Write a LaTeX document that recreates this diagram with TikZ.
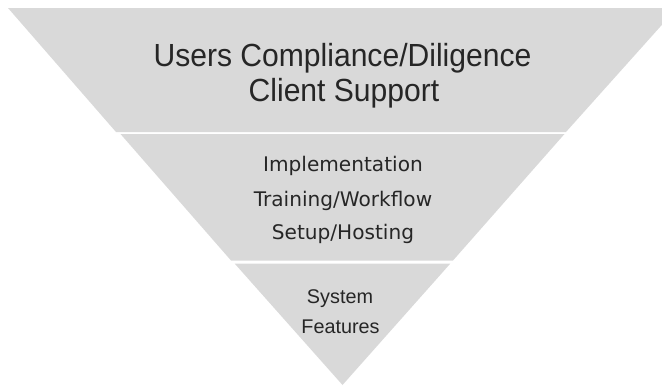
\documentclass[tikz,border=0pt]{standalone}
\usepackage{fontspec}
\setmainfont{Liberation Sans}
\newfontfamily\dejavu{DejaVu Sans}
\definecolor{band}{HTML}{D9D9D9}
\definecolor{ink}{HTML}{262626}
\tikzset{
  bandfill/.style={fill=band,draw=none},
  lbl/.style={text=ink,inner sep=0pt,anchor=base},
  toptxt/.style={lbl,font=\fontsize{32}{38}\selectfont},
  midtxt/.style={lbl,font=\dejavu\fontsize{20.1}{24}\selectfont},
  bottxt/.style={lbl,font=\fontsize{19.8}{24}\selectfont}
}
\begin{document}
\begin{tikzpicture}[x=1pt,y=-1pt]
\useasboundingbox (0,0) rectangle (662,386);
\begin{scope}
\clip (0,0) rectangle (662,386);
% top band
\fill[bandfill] (8,8) -- (677,8) -- (566,132) -- (116,132) -- cycle;
% middle band
\fill[bandfill] (120.5,134) -- (564.5,134) -- (453.0,260.5) -- (231.0,260.5) -- cycle;
% bottom band
\fill[bandfill] (234.6,263.5) -- (450.4,263.5) -- (342.5,385) -- cycle;
\end{scope}
\node[toptxt] (t1) at (342.5,66) {\scalebox{0.94}[1]{Users Compliance/Diligence}};
\node[toptxt] (t2) at (344,101) {\scalebox{0.94}[1]{Client Support}};
\node[midtxt] (m1) at (343,171) {Implementation};
\node[midtxt] (m2) at (343,206) {Training/Workflow};
\node[midtxt] (m3) at (343,239) {Setup/Hosting};
\node[bottxt] (b1) at (340,303) {System};
\node[bottxt] (b2) at (340.5,333) {Features};
\end{tikzpicture}
\end{document}
